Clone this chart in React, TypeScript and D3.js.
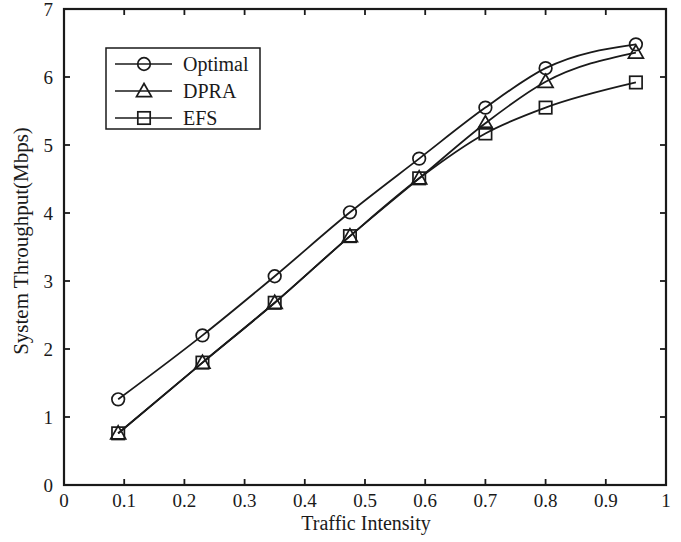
import React from "react";
import * as d3 from "d3";

const intensity = [0.09, 0.23, 0.35, 0.475, 0.59, 0.7, 0.8, 0.95];
const optimal = [1.26, 2.2, 3.07, 4.01, 4.8, 5.55, 6.13, 6.48];
const dpra = [0.76, 1.8, 2.68, 3.66, 4.51, 5.32, 5.93, 6.36];
const efs = [0.76, 1.8, 2.68, 3.66, 4.51, 5.17, 5.55, 5.92];
const seriesNames = ["Optimal", "DPRA", "EFS"];
const xTicks = [0, 0.1, 0.2, 0.3, 0.4, 0.5, 0.6, 0.7, 0.8, 0.9, 1];
const yTicks = [0, 1, 2, 3, 4, 5, 6, 7];

const W = 681;
const H = 542;
const left = 64, right = 666, top = 9, bottom = 485;
const ink = "#1a1a1a";
const font = "'Liberation Serif', 'Times New Roman', serif";

function Marker({ kind, x, y }: { kind: string; x: number; y: number }) {
  if (kind === "Optimal")
    return <circle cx={x} cy={y} r={6.3} fill="none" stroke={ink} strokeWidth={1.7} />;
  if (kind === "DPRA") {
    const s = 7.5;
    const p = `M${x},${y - s} L${x + s},${y + s * 0.75} L${x - s},${y + s * 0.75} Z`;
    return <path d={p} fill="none" stroke={ink} strokeWidth={1.7} />;
  }
  return <rect x={x - 6.2} y={y - 6.2} width={12.4} height={12.4} fill="none" stroke={ink} strokeWidth={1.7} />;
}

export default function App() {
  const x = d3.scaleLinear().domain([0, 1]).range([left, right]);
  const y = d3.scaleLinear().domain([0, 7]).range([bottom, top]);

  const all = [optimal, dpra, efs];
  const line = d3
    .line<[number, number]>()
    .x((d) => x(d[0]))
    .y((d) => y(d[1]))
    .curve(d3.curveMonotoneX);

  const tick = 6;

  return (
    <svg width={W} height={H} style={{ position: "absolute", left: 0, top: 0 }} fontFamily={font}>
      <rect width={W} height={H} fill="#fff" />
      {/* data lines */}
      {all.map((vals, si) => {
        const pts = intensity.map((v, i) => [v, vals[i]] as [number, number]);
        return <path key={si} d={line(pts) || ""} fill="none" stroke={ink} strokeWidth={1.8} />;
      })}
      {all.map((vals, si) =>
        intensity.map((v, i) => (
          <Marker key={si + "-" + i} kind={seriesNames[si]} x={x(v)} y={y(vals[i])} />
        ))
      )}

      {/* frame */}
      <rect x={left} y={top} width={right - left} height={bottom - top} fill="none" stroke={ink} strokeWidth={2.2} />
      {xTicks.map((t) => (
        <g key={"x" + t}>
          <line x1={x(t)} x2={x(t)} y1={bottom} y2={bottom - tick} stroke={ink} strokeWidth={1.8} />
          <line x1={x(t)} x2={x(t)} y1={top} y2={top + tick} stroke={ink} strokeWidth={1.8} />
          <text x={x(t)} y={bottom + 22} textAnchor="middle" fontSize={19} fill={ink}>
            {String(t)}
          </text>
        </g>
      ))}
      {yTicks.map((t) => (
        <g key={"y" + t}>
          <line x1={left} x2={left + tick} y1={y(t)} y2={y(t)} stroke={ink} strokeWidth={1.8} />
          <line x1={right} x2={right - tick} y1={y(t)} y2={y(t)} stroke={ink} strokeWidth={1.8} />
          <text x={left - 11} y={y(t) + 6.5} textAnchor="end" fontSize={19} fill={ink}>
            {String(t)}
          </text>
        </g>
      ))}

      <text x={366} y={530} textAnchor="middle" fontSize={20} fill={ink}>
        Traffic Intensity
      </text>
      <text
        transform={`translate(28,${241}) rotate(-90)`}
        textAnchor="middle"
        fontSize={21}
        fill={ink}
      >
        System Throughput(Mbps)
      </text>

      {/* legend */}
      <rect x={106} y={48} width={154} height={81} fill="#fff" stroke={ink} strokeWidth={1.5} />
      {seriesNames.map((n, i) => {
        const ly = 64 + i * 27;
        return (
          <g key={n}>
            <line x1={115} x2={172} y1={ly} y2={ly} stroke={ink} strokeWidth={1.7} />
            <Marker kind={n} x={144} y={ly} />
            <text x={183} y={ly + 7} fontSize={20} fill={ink}>
              {n}
            </text>
          </g>
        );
      })}
    </svg>
  );
}
